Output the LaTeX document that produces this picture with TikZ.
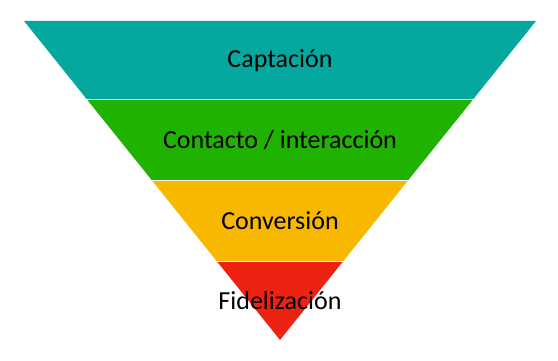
\documentclass[tikz,border=0pt]{standalone}
\usepackage{fontspec}
\setmainfont{Carlito}
\usepackage{tikz}
\definecolor{bandteal}{RGB}{5,168,158}
\definecolor{bandgreen}{RGB}{31,178,0}
\definecolor{bandyellow}{RGB}{249,184,0}
\definecolor{bandred}{RGB}{238,34,17}
\tikzset{band/.style={draw=white, line width=1pt, line join=round},
  bandlabel/.style={font=\fontsize{26}{30}\selectfont, text=black}}

\begin{document}
\begin{tikzpicture}[x=1pt, y=-1pt]
    \useasboundingbox (0,0) rectangle (558,361);
    % Bands of the funnel
    \fill [bandteal] (24,21) -- (536,21) -- (472.6,100) -- (87.4,100) -- cycle;
    \fill [bandgreen] (87.4,100) -- (472.6,100) -- (407.6,181) -- (152.4,181) -- cycle;
    \fill [bandyellow] (152.4,181) -- (407.6,181) -- (343.4,261) -- (216.6,261) -- cycle;
    \fill [bandred] (216.6,261) -- (343.4,261) -- (280,340) -- cycle;
    % Separators
    \foreach \y/\xl/\xr in {100/87.4/472.6, 181/152.4/407.6, 261/216.6/343.4}
        \draw [band] (\xl-1,\y) -- (\xr+1,\y);
    % Labels
    \node [bandlabel] (captacion) at (280,60.5) {Captación};
    \node [bandlabel] (contacto) at (280,140.5) {Contacto / interacción};
    \node [bandlabel] (conversion) at (280,221) {Conversión};
    \node [bandlabel] (fidelizacion) at (280,300.5) {Fidelización};
\end{tikzpicture}
\end{document}
